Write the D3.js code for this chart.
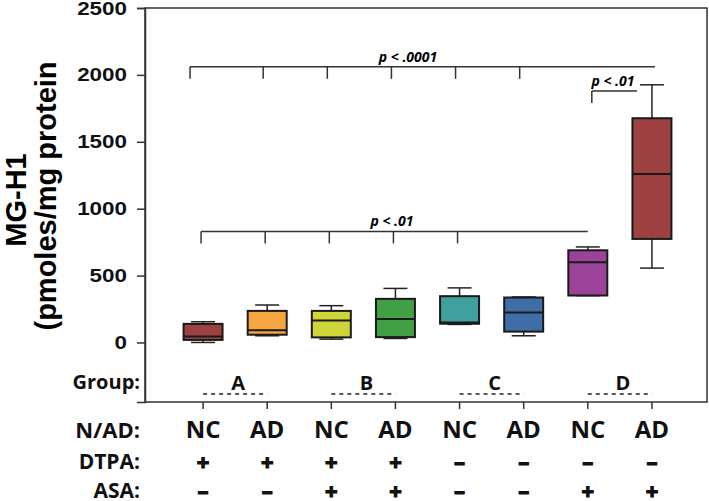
<!DOCTYPE html>
<html>
<head>
<meta charset="utf-8">
<script src="https://cdn.jsdelivr.net/npm/d3@7"></script>
<style>
  body { margin: 0; background: #fff; }
  svg { display: block; }
</style>
</head>
<body>
<svg width="709" height="501"></svg>
<script>
// data
const groups = ['A', 'A', 'B', 'B', 'C', 'C', 'D', 'D'];
const nad = ['NC', 'AD', 'NC', 'AD', 'NC', 'AD', 'NC', 'AD'];
const dtpa = ['+', '+', '+', '+', '–', '–', '–', '–'];
const asa = ['–', '–', '+', '+', '–', '–', '+', '+'];

const mins = [0, 50, 25, 30, 135, 50, 350, 556];
const q1s = [19, 58, 38, 40, 140, 81, 351, 774];
const medians = [45, 92, 165, 176, 150, 224, 599, 1259];
const q3s = [139, 236, 236, 326, 346, 336, 689, 1676];
const maxs = [155, 280, 275, 404, 408, 340, 714, 1926];

const colors = ['#9d4040', '#f7a541', '#cdd539', '#41a045', '#40a09d', '#3e6ea5', '#9a4398', '#9d4240'];

const yTicks = [0, 500, 1000, 1500, 2000, 2500];

const svg = d3.select('svg');
const idx = d3.range(groups.length);

const x = d3.scaleBand()
  .domain(idx)
  .range([171, 684])
  .paddingInner(0.392)
  .paddingOuter(0.196);

const y = d3.scaleLinear()
  .domain([-445, 2500])
  .range([402, 8]);

const left = 145, right = 707;
const cx = i => x(i) + x.bandwidth() / 2;

// frame
svg.append('rect')
  .attr('x', left).attr('y', y(2500))
  .attr('width', right - left).attr('height', y(-445) - y(2500))
  .attr('fill', 'none').attr('stroke', '#333').attr('stroke-width', 1.5);

// y axis
const yAxis = svg.append('g')
  .attr('transform', `translate(${left},0)`)
  .call(d3.axisLeft(y).tickValues(yTicks).tickFormat(d3.format('d')).tickSize(8).tickPadding(10))
yAxis.select('.domain').attr('stroke', '#333').attr('stroke-width', 1.5);
yAxis.selectAll('.tick line').attr('stroke', '#333').attr('stroke-width', 1.5);
// the original digits are a little wide, so stretch them sideways
yAxis.selectAll('.tick text')
  .attr('font-family', 'Liberation Sans, Arial, sans-serif')
  .attr('font-weight', 'bold')
  .attr('font-size', 19)
  .attr('fill', '#111')
  .attr('x', -18 / 1.18)
  .attr('transform', 'scale(1.18,1)');

// y label
svg.append('text')
  .attr('transform', 'translate(26,200) rotate(-90)')
  .attr('text-anchor', 'middle')
  .attr('font-family', 'Liberation Sans, Arial, sans-serif')
  .attr('font-weight', 'bold').attr('font-size', 29)
  .text('MG-H1');
svg.append('text')
  .attr('transform', 'translate(56,196) rotate(-90)')
  .attr('text-anchor', 'middle')
  .attr('font-family', 'Liberation Sans, Arial, sans-serif')
  .attr('font-weight', 'bold').attr('font-size', 29)
  .text('(pmoles/mg protein');

// x ticks under the frame
svg.append('g').selectAll('line')
  .data(idx)
  .join('line')
    .attr('x1', cx).attr('x2', cx)
    .attr('y1', y(-445)).attr('y2', y(-445) + 7)
    .attr('stroke', '#333').attr('stroke-width', 1.5);

// boxes
const boxes = svg.append('g').selectAll('g')
  .data(idx)
  .join('g');

const capW = 24;
boxes.append('line')
  .attr('x1', cx).attr('x2', cx)
  .attr('y1', i => y(maxs[i])).attr('y2', i => y(q3s[i]))
  .attr('stroke', '#222').attr('stroke-width', 1.5);
boxes.append('line')
  .attr('x1', cx).attr('x2', cx)
  .attr('y1', i => y(q1s[i])).attr('y2', i => y(mins[i]))
  .attr('stroke', '#222').attr('stroke-width', 1.5);
boxes.append('line')
  .attr('x1', i => cx(i) - capW / 2).attr('x2', i => cx(i) + capW / 2)
  .attr('y1', i => y(maxs[i])).attr('y2', i => y(maxs[i]))
  .attr('stroke', '#222').attr('stroke-width', 1.5);
boxes.append('line')
  .attr('x1', i => cx(i) - capW / 2).attr('x2', i => cx(i) + capW / 2)
  .attr('y1', i => y(mins[i])).attr('y2', i => y(mins[i]))
  .attr('stroke', '#222').attr('stroke-width', 1.5);
boxes.append('rect')
  .attr('x', i => x(i))
  .attr('y', i => y(q3s[i]))
  .attr('width', x.bandwidth())
  .attr('height', i => y(q1s[i]) - y(q3s[i]))
  .attr('fill', i => colors[i])
  .attr('stroke', '#1a1a1a').attr('stroke-width', 2);
boxes.append('line')
  .attr('x1', i => x(i)).attr('x2', i => x(i) + x.bandwidth())
  .attr('y1', i => y(medians[i])).attr('y2', i => y(medians[i]))
  .attr('stroke', '#1a1a1a').attr('stroke-width', 2);

// significance brackets
const bracketStroke = '#333';
function bracket(from, yv, ticks, end, label, labelX) {
  const g = svg.append('g');
  const yy = y(yv);
  g.append('line')
    .attr('x1', from).attr('x2', end)
    .attr('y1', yy).attr('y2', yy)
    .attr('stroke', bracketStroke).attr('stroke-width', 1.5);
  g.selectAll('line.t')
    .data(ticks)
    .join('line')
      .attr('class', 't')
      .attr('x1', d => d).attr('x2', d => d)
      .attr('y1', yy).attr('y2', yy + 12)
      .attr('stroke', bracketStroke).attr('stroke-width', 1.5);
  g.append('text')
    .attr('x', labelX).attr('y', yy - 5)
    .attr('text-anchor', 'middle')
    .attr('font-family', 'Open Sans, sans-serif')
    .attr('font-weight', 'bold').attr('font-style', 'italic')
    .attr('font-size', 14)
    .text(label);
}

// p < .0001 : groups A-C vs D-AD
const topTicks = [0, 1, 2, 3, 4, 5].map(i => cx(i) - (i === 0 ? 13 : 4));
bracket(topTicks[0], 2060, topTicks, cx(7) + 3, 'p < .0001', 408);
// p < .01 : D-NC vs D-AD
bracket(cx(6) + 4, 1880, [cx(6) + 4], cx(7) - 15, 'p < .01', 613);
// p < .01 : groups A-C vs D-NC
const lowTicks = [0, 1, 2, 3, 4].map(i => cx(i) - 2);
bracket(lowTicks[0], 830, lowTicks, cx(6), 'p < .01', 392);

// bottom table
const labelFont = 'Open Sans, sans-serif';
const rowLabels = [['Group:', 389, 20], ['N/AD:', 438, 22], ['DTPA:', 469, 21], ['ASA:', 498, 21]];
svg.append('g').selectAll('text')
  .data(rowLabels)
  .join('text')
    .attr('x', 140).attr('y', d => d[1])
    .attr('text-anchor', 'end')
    .attr('font-family', labelFont).attr('font-weight', 'bold')
    .attr('font-size', d => d[2])
    .attr('fill', '#111')
    .text(d => d[0]);

// group letters with dashed underline
const groupNames = Array.from(new Set(groups));
const gl = svg.append('g').selectAll('g')
  .data(groupNames)
  .join('g');
gl.append('text')
  .attr('x', g => (cx(groups.indexOf(g)) + cx(groups.lastIndexOf(g))) / 2 + 3)
  .attr('y', 390)
  .attr('text-anchor', 'middle')
  .attr('font-family', labelFont).attr('font-weight', 'bold')
  .attr('font-size', 20).attr('fill', '#111')
  .text(g => g);
gl.append('line')
  .attr('x1', g => cx(groups.indexOf(g)))
  .attr('x2', g => cx(groups.lastIndexOf(g)))
  .attr('y1', 394).attr('y2', 394)
  .attr('stroke', '#222').attr('stroke-width', 1.5)
  .attr('stroke-dasharray', '4,4');

// rows: values, baseline, font size, extra stroke to thicken signs
const rows = [[nad, 438, 24, 0], [dtpa, 470, 22, 1.2], [asa, 499, 22, 1.2]];
rows.forEach(([vals, yy, fs, sw]) => {
  svg.append('g').selectAll('text')
    .data(idx)
    .join('text')
      .attr('x', cx).attr('y', yy)
      .attr('text-anchor', 'middle')
      .attr('font-family', labelFont).attr('font-weight', 'bold')
      .attr('font-size', fs).attr('fill', '#111')
      .attr('stroke', sw ? '#111' : 'none').attr('stroke-width', sw)
      .text(i => vals[i]);
});
</script>
</body>
</html>
